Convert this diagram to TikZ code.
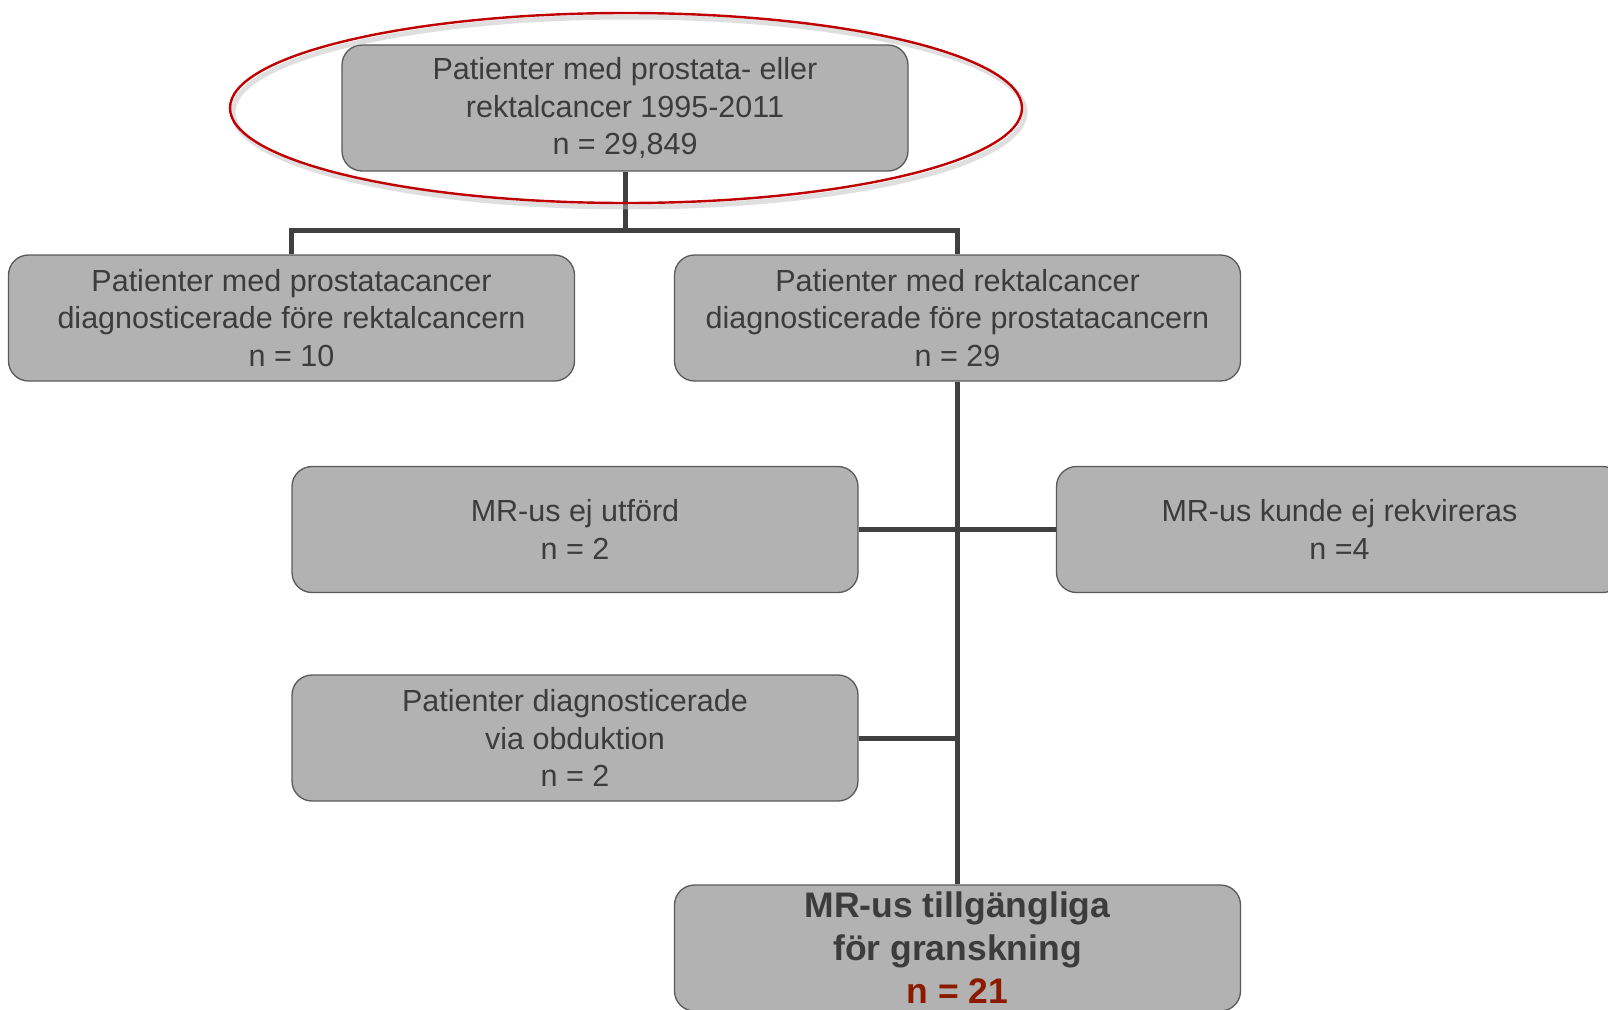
\documentclass[tikz,border=0pt]{standalone}
\usepackage{fontspec}
\setmainfont{Liberation Sans}
\usetikzlibrary{shapes.geometric}
\definecolor{boxgray}{HTML}{B2B2B2}
\definecolor{bordergray}{HTML}{5A5A5A}
\definecolor{txtgray}{HTML}{3C3C3C}
\definecolor{connc}{HTML}{404040}
\definecolor{ellred}{HTML}{C00000}
\definecolor{numred}{HTML}{8B1A00}
\begin{document}
\begin{tikzpicture}[x=1pt,y=-1pt,
  fbox/.style={rectangle, rounded corners=20pt, fill=boxgray, draw=bordergray,
    line width=1.3pt, minimum width=566pt, minimum height=126pt, inner sep=0pt,
    align=center, text=txtgray, font=\fontsize{30.5}{37.5}\selectfont},
  conn/.style={draw=connc, line width=5pt},
  hlell/.style={ellipse, draw=ellred, line width=2.4pt, minimum width=792pt,
    minimum height=190pt, inner sep=0pt},
  hlshadow/.style={ellipse, draw=black!25, opacity=0.5, line width=5pt, minimum width=792pt,
    minimum height=190pt, inner sep=0pt}
]
\useasboundingbox (0,0) rectangle (1608,1009);
\begin{scope}
\clip (0,0) rectangle (1608,1009);
\node[fbox] (top) at (625,108) {Patienter med prostata- eller\\rektalcancer 1995-2011\\n = 29,849};
\node[fbox] (left) at (291.5,318) {Patienter med prostatacancer\\diagnosticerade före rektalcancern\\n = 10};
\node[fbox] (right) at (957.5,318) {Patienter med rektalcancer\\diagnosticerade före prostatacancern\\n = 29};
\node[fbox] (mid) at (575,529.5) {MR-us ej utförd\\n = 2};
\node[fbox] (mright) at (1339.5,529.5) {MR-us kunde ej rekvireras\\n =4};
\node[fbox] (obd) at (575,738) {Patienter diagnosticerade\\via obduktion\\n = 2};
\node[fbox, font=\fontsize{35.5}{43}\selectfont\bfseries] (bottom) at (957.5,948) {MR-us tillgängliga\\för granskning\\\textcolor{numred}{n = 21}};
\coordinate (j1) at (625,230);
\draw[conn] (top.south) -- (j1);
\draw[conn] (left.north) |- (j1) -| (right.north);
\draw[conn] (right.south) -- (bottom.north);
\draw[conn] (mid.east) -- (mright.west);
\draw[conn] (obd.east) -- (obd.east -| right.south);
\node[hlshadow] (hlsh) at (629,112) {};
\node[hlell] (hl) at (626,108) {};
\end{scope}
\end{tikzpicture}
\end{document}
